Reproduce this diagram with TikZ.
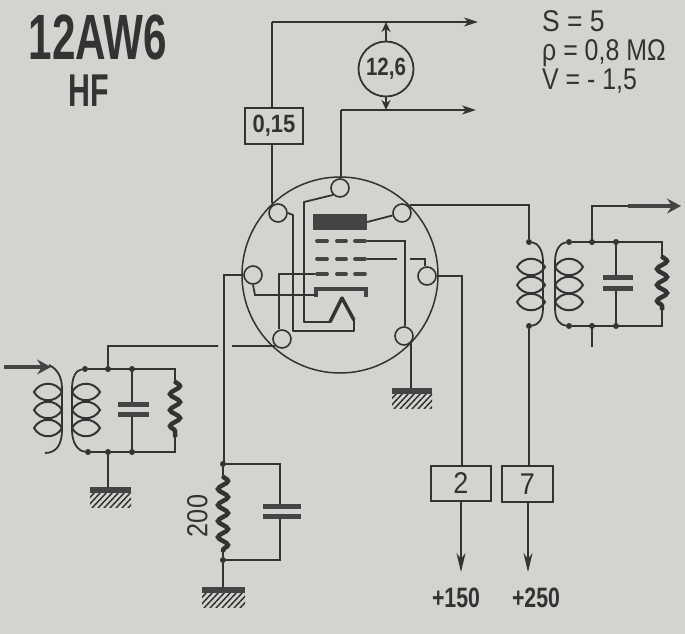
\documentclass[tikz,border=0pt]{standalone}
\usepackage{fontspec}
\usepackage{graphicx}
\setmainfont{Liberation Sans}
\usetikzlibrary{arrows.meta,decorations.pathmorphing}
\definecolor{paper}{HTML}{D3D3D0}
\definecolor{ink}{HTML}{333333}
\definecolor{inkd}{HTML}{444444}
\tikzset{
  wire/.style={draw=ink,line width=1.8pt,line join=miter},
  arr/.style={wire,-{Stealth[length=14pt,width=9pt,inset=4pt]}},
  longarr/.style={wire,-{Stealth[length=19pt,width=9pt,inset=6pt]}},
  thickarr/.style={draw=inkd,line width=3.6pt,-{Stealth[length=14pt,width=15pt,inset=5pt]}},
  pinnode/.style={circle,draw=ink,line width=1.6pt,minimum size=18pt,inner sep=0pt,fill=paper},
  box/.style={rectangle,draw=ink,line width=2pt,inner sep=0pt,text=ink},
  dotnode/.style={circle,fill=ink,minimum size=6pt,inner sep=0pt},
  platebar/.style={fill=inkd,draw=none},
  dashbar/.style={line width=3.8pt,draw=inkd,line cap=round},
  capplate/.style={line width=5pt,draw=inkd},
  loopline/.style={draw=ink,line width=2pt},
  res/.style={draw=ink,line width=4.5pt,decorate,decoration={snake,amplitude=5pt,segment length=16pt}},
  lab/.style={text=ink,inner sep=0pt}
}
\newcommand{\narrow}[3]{\scalebox{#1}[1]{\fontsize{#2}{#2}\selectfont #3}}
\newcommand{\lens}[2]{%
  \draw[loopline] (#1-14,#2) .. controls (#1-8,#2-11) and (#1+8,#2-11) .. (#1+14,#2)
    .. controls (#1+8,#2+11) and (#1-8,#2+11) .. (#1-14,#2) -- cycle;}
\newcommand{\earth}[3]{%
  \begin{scope}
  \clip (#1,#3+5) rectangle (#2,#3+20);
  \foreach \hh in {0,6,...,60}{\draw[draw=ink,line width=1.5pt] (#1+\hh-16,#3+21) -- (#1+\hh,#3+4);}
  \end{scope}
  \fill[inkd] (#1,#3) rectangle (#2,#3+6);}
\begin{document}
\begin{tikzpicture}[x=1pt,y=-1pt]
\useasboundingbox (0,0) rectangle (685,634);
\fill[paper] (0,0) rectangle (685,634);
% titles
\node[lab] (title) at (98,37) {\narrow{0.66}{64}{\bfseries 12AW6}};
\node[lab] (hf) at (89,91) {\narrow{0.66}{46}{\bfseries HF}};
\node[lab,anchor=base west] (ps) at (542,32) {\narrow{0.88}{30}{S = 5}};
\node[lab,anchor=base west] (pr) at (542,61) {\narrow{0.83}{30}{ρ = 0,8 MΩ}};
\node[lab,anchor=base west] (pv) at (542,89) {\narrow{0.83}{30}{V = - 1,5}};
% envelope
\node[circle,draw=ink,line width=1.5pt,minimum size=196pt,inner sep=0pt] (env) at (340,275) {};
% pins
\node[pinnode] (pt) at (340,188) {};
\node[pinnode] (pul) at (278,213) {};
\node[pinnode] (pur) at (402,213) {};
\node[pinnode] (pl) at (253,275) {};
\node[pinnode] (pr8) at (427,276) {};
\node[pinnode] (pll) at (282,339) {};
\node[pinnode] (plr) at (404,336) {};
% electrodes
\node[platebar,minimum width=54pt,minimum height=16pt,inner sep=0pt] (plate) at (340,222) {};
\foreach \yy in {241,259,274}{
  \draw[dashbar] (317,\yy) -- (327,\yy) (337,\yy) -- (346,\yy) (355,\yy) -- (365,\yy);
}
\coordinate (ga) at (367,241);
\coordinate (gb) at (367,259);
\coordinate (gc) at (315,274);
\draw[line width=3.6pt,draw=inkd] (316,297) -- (316,289) -- (366,289) -- (366,297);
\coordinate (kath) at (316,295);
% internal wiring
\draw[wire] (plate.east) -- (pur);
\draw[wire] (ga) -- (405,241) -- (plr.north -| 405,0);
\draw[wire] (gb) -- (397,259) (410,259) -- (425,259) -- (pr8.north -| 425,0);
\draw[wire] (gc) -- (279,274) -- (pll.north -| 279,0);
\draw[wire] (pl.south) -- (255,295) -- (kath);
\draw[wire,line join=round] (pul.east) -- (293,215) -- (293,331) -- (354,331) -- (354,320) -- (342,298) -- (330,322) -- (304,322) -- (304,202) -- (pt.south west);
\draw[line width=3.4pt,draw=ink,line join=round] (354,320) -- (342,298) -- (330,322);
% top lines
\node[box,minimum width=58pt,minimum height=36pt] (b015) at (274,126) {\narrow{0.88}{25}{\bfseries 0,15}};
\node[circle,draw=ink,line width=1.8pt,minimum size=55pt,inner sep=0pt,text=ink] (v126) at (386,69) {\narrow{0.82}{25}{\bfseries 12,6}};
\coordinate (t1) at (272,22);
\coordinate (t1e) at (478,22);
\coordinate (t2) at (341,110);
\coordinate (t2e) at (476,110);
\draw[wire] (pul.north -| 272,0) -- (b015.south -| 272,0);
\draw[wire] (b015.north -| t1) -- (t1);
\draw[arr] (t1) -- (t1e);
\draw[wire] (pt.north -| t2) -- (t2);
\draw[arr] (t2) -- (t2e);
\draw[wire,-{Stealth[length=10pt,width=9pt]}] (v126.north) -- (386,22);
\draw[wire,-{Stealth[length=10pt,width=9pt]}] (v126.south) -- (386,110);
% output transformer
\node[dotnode] (d1) at (529,242) {};
\node[dotnode] (d2) at (529,326) {};
\node[dotnode] (d3) at (569,242) {};
\node[dotnode] (d4) at (592,242) {};
\node[dotnode] (d5) at (616,242) {};
\node[dotnode] (d6) at (569,326) {};
\node[dotnode] (d7) at (592,326) {};
\node[dotnode] (d8) at (616,326) {};
\draw[wire] (pur) ++(8,-8) -- (529,205) -- (d1);
\draw[wire] (d1) .. controls (538,243) and (543,250) .. (543,262) -- (543,308) .. controls (543,320) and (538,325) .. (d2);
\draw[wire] (d3) .. controls (560,243) and (555,250) .. (555,262) -- (555,308) .. controls (555,320) and (560,325) .. (d6);
\foreach \yy in {267,285,302}{\lens{531}{\yy}\lens{569}{\yy}}
\draw[wire] (d3) -- (662,242) -- (662,257);
\draw[res] (662,256) -- (662,310);
\draw[wire] (662,308) -- (662,326) -- (d6);
\draw[wire] (d5) -- (616,277) (616,287) -- (d8);
\draw[capplate] (603,277) -- (633,277) (603,288) -- (633,288);
\coordinate (stub) at (592,347);
\draw[wire] (d7) -- (stub);
\coordinate (out) at (681,206);
\draw[wire] (d4) -- (592,206) -- (628,206);
\draw[thickarr] (628,206) -- (out);
% boxes and supplies
\node[box,minimum width=60pt,minimum height=35pt] (b2) at (461,483) {\narrow{0.9}{30}{2}};
\node[box,minimum width=51pt,minimum height=36pt] (b7) at (527.5,484) {\narrow{0.9}{30}{7}};
\coordinate (s2) at (461,572);
\coordinate (s7) at (528,572);
\draw[wire] (pr8.east) ++(1,0) -- (462,276) -- (462,465.5);
\draw[wire] (d2) -- (d2 |- b7.north);
\draw[longarr] (b2.south -| s2) -- (s2);
\draw[longarr] (b7.south -| s7) -- (s7);
\node[lab] (l150) at (456,598) {\narrow{0.76}{28}{\bfseries +150}};
\node[lab] (l250) at (536,598) {\narrow{0.76}{28}{\bfseries +250}};
% lower right earth
\coordinate (e1) at (411,388);
\draw[wire] (411,343) -- (e1);
\earth{392}{432}{388}
% input transformer
\node[dotnode] (i1) at (85,369) {};
\node[dotnode] (i2) at (108,369) {};
\node[dotnode] (i3) at (132,369) {};
\node[dotnode] (i4) at (88,452) {};
\node[dotnode] (i5) at (108,452) {};
\node[dotnode] (i6) at (132,452) {};
\coordinate (ie) at (108,487);
\coordinate (iin) at (4,367);
\coordinate (ia) at (51,367);
\draw[wire] (i1) .. controls (76,370) and (72,377) .. (72,389) -- (72,430) .. controls (72,443) and (78,451) .. (i4);
\draw[wire] (49,365) .. controls (57,369) and (62,376) .. (62,389) -- (62,430) .. controls (62,445) and (56,453) .. (45,453);
\draw[thickarr] (iin) -- (ia);
\foreach \yy in {392,410,428}{\lens{48}{\yy}\lens{86}{\yy}}
\draw[wire] (i1) -- (175,369) -- (175,382);
\draw[res] (175,381) -- (175,437);
\draw[wire] (175,435) -- (175,452) -- (i4);
\draw[wire] (i3) -- (132,404) (132,413) -- (i6);
\draw[capplate] (118,404) -- (149,404) (118,414) -- (149,414);
\draw[wire] (i5) -- (ie);
\earth{90}{131}{487}
\draw[wire] (i2) -- (108,346) -- (218,346) (232,346) -- (pll.south west);
% cathode network
\node[dotnode] (c1) at (223,464) {};
\node[dotnode] (c2) at (223,560) {};
\coordinate (ce) at (223,587);
\draw[wire] (pl.west) -- (224,275) -- (224,464);
\draw[wire] (c1) -- (223,477);
\draw[res] (223,476) -- (223,552);
\draw[wire] (223,550) -- (c2) -- (ce);
\draw[wire] (c1) -- (280,464) -- (280,506) (280,515) -- (280,560) -- (c2);
\draw[capplate] (263,506) -- (301,506) (263,516) -- (301,516);
\earth{202}{245}{587}
\node[lab,rotate=90] (l200) at (197.5,516) {\narrow{0.87}{29}{200}};
\end{tikzpicture}
\end{document}
